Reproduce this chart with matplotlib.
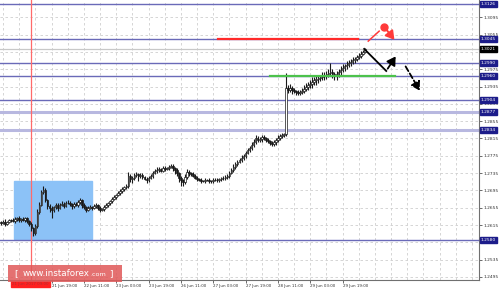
import matplotlib
matplotlib.use("Agg")
import matplotlib.pyplot as plt
from matplotlib.patches import Rectangle

# hourly closes, in 1e-4 units, from 20 Jun 18:00
closes = [
    12620, 12623, 12618, 12622, 12626, 12627, 12624, 12629, 12631, 12626,
    12629, 12627, 12631, 12624, 12617, 12608, 12596, 12613, 12645, 12661,
    12691, 12696, 12673, 12659, 12654, 12650, 12657, 12661, 12655, 12662,
    12664, 12660, 12667, 12666, 12663, 12659, 12664, 12661, 12668, 12673,
    12661, 12656, 12650, 12655, 12657, 12654, 12659, 12661, 12655, 12650,
    12652, 12657, 12661, 12665, 12670, 12676, 12680, 12684, 12689, 12693,
    12698, 12702, 12705, 12728, 12722, 12724, 12730, 12733, 12729, 12731,
    12726, 12722, 12719, 12724, 12728, 12735, 12740, 12742, 12744, 12741,
    12747, 12745, 12747, 12749, 12751, 12746, 12742, 12735, 12724, 12718,
    12714, 12726, 12738, 12735, 12733, 12729, 12724, 12721, 12719, 12717,
    12717, 12719, 12719, 12716, 12717, 12720, 12719, 12718, 12721, 12723,
    12724, 12726, 12728, 12735, 12742, 12750, 12756, 12761, 12765, 12770,
    12775, 12781, 12788, 12794, 12800, 12808, 12816, 12812, 12814, 12818,
    12816, 12812, 12809, 12805, 12802, 12806, 12811, 12817, 12821, 12823,
    12825, 12932, 12928, 12932, 12927, 12925, 12922, 12920, 12923, 12925,
    12930, 12934, 12938, 12941, 12946, 12950, 12953, 12955, 12957, 12959,
    12962, 12964, 12966, 12969, 12963, 12959, 12964, 12969, 12974, 12978,
    12982, 12985, 12989, 12992, 12996, 12999, 13003, 13006, 13011, 13015,
    13021,
]
# wick lengths above / below the body, pips
up_wick = [
    3, 4, 5, 3, 4, 3, 5, 4, 3, 4, 3, 5, 3, 2, 3, 4, 3, 5, 6, 8,
    5, 9, 4, 3, 5, 4, 3, 5, 4, 3, 6, 4, 3, 5, 4, 3, 4, 5, 6, 4,
    3, 4, 3, 5, 4, 3, 4, 5, 3, 4, 3, 4, 5, 4, 3, 4, 5, 3, 4, 5,
    4, 3, 5, 10, 4, 5, 6, 4, 3, 5, 4, 3, 4, 5, 6, 4, 5, 6, 4, 3,
    5, 4, 3, 4, 5, 4, 3, 4, 3, 4, 3, 6, 7, 4, 3, 4, 3, 4, 3, 4,
    3, 4, 3, 4, 3, 4, 3, 4, 3, 4, 5, 4, 5, 6, 5, 6, 5, 4, 5, 6,
    5, 6, 5, 4, 6, 5, 6, 4, 5, 6, 4, 3, 4, 3, 4, 5, 4, 5, 4, 5,
    3, 34, 6, 8, 5, 4, 3, 4, 5, 6, 8, 10, 7, 9, 12, 8, 6, 7, 5, 9,
    6, 8, 10, 20, 6, 5, 7, 6, 8, 9, 6, 8, 7, 6, 8, 5, 6, 7, 6, 5,
    4,
]
down_wick = [
    4, 3, 5, 4, 3, 4, 3, 4, 5, 3, 4, 3, 4, 5, 4, 6, 6, 4, 5, 4,
    3, 4, 5, 6, 8, 19, 4, 5, 8, 4, 3, 5, 4, 3, 5, 6, 4, 3, 4, 5,
    6, 4, 5, 3, 4, 5, 3, 4, 6, 5, 3, 4, 3, 4, 3, 4, 3, 4, 3, 4,
    3, 4, 3, 4, 8, 10, 5, 4, 12, 6, 5, 4, 6, 4, 3, 4, 3, 4, 5, 4,
    3, 4, 3, 4, 3, 5, 8, 6, 10, 12, 9, 5, 4, 6, 5, 4, 3, 4, 3, 4,
    3, 4, 3, 4, 3, 4, 3, 4, 3, 4, 3, 4, 5, 4, 3, 4, 5, 4, 3, 4,
    5, 4, 3, 4, 5, 4, 6, 5, 4, 6, 5, 4, 5, 6, 5, 4, 5, 4, 5, 4,
    5, 4, 8, 6, 9, 5, 6, 4, 5, 6, 4, 5, 8, 6, 10, 8, 12, 9, 7, 6,
    8, 9, 6, 7, 9, 10, 8, 6, 7, 5, 6, 7, 5, 6, 5, 6, 5, 4, 5, 4,
    3,
]
first_open = 12622

x_ticks = [25, 41, 57, 73, 89, 105, 121, 137, 153, 169]
x_labels = ["21 Jun 19:00", "22 Jun 11:00", "23 Jun 03:00", "23 Jun 19:00",
            "26 Jun 11:00", "27 Jun 03:00", "27 Jun 19:00", "28 Jun 11:00",
            "29 Jun 03:00", "29 Jun 19:00"]
y_ticks = [1.2495, 1.2535, 1.2575, 1.2615, 1.2655, 1.2695, 1.2735, 1.2775,
           1.2815, 1.2855, 1.2895, 1.2935, 1.2975, 1.3015, 1.3055, 1.3095]

levels = [1.3126, 1.3045, 1.2990, 1.2960, 1.2904, 1.2580]
soft_levels = [1.2877, 1.2834]
last_price = 1.3021
marker_bar = 15
marker_label = "21 Jun 2017 09:00"

zone_bars = [6.4, 45.0]
zone_prices = [1.2583, 1.2717]
red_level = [107.4, 176.7, 1.3045]
green_level = [133.2, 195.0, 1.2960]
red_path_x = [181.7, 187.1]
red_path_y = [1.3040, 1.3063]
red_dot = [189.6, 1.3073]
red_arrow_end = [195.5, 1.3038]
black_path_x = [179.7, 190.6]
black_path_y = [1.3022, 1.2971]
black_up_end = [196.0, 1.3010]
black_down = [199.5, 1.2987, 207.9, 1.2920]

fig = plt.figure(figsize=(5, 2.91), dpi=100)
ax = fig.add_axes([0, 11 / 291, 479 / 500, 280 / 291])
ax.set_xlim(-0.5, 236.5)
ax.set_ylim(1.2488, 1.3135)

for x in range(1, 237, 8):
    ax.axvline(x, color="#cfcfcf", lw=0.6, ls=(0, (3, 3)), zorder=0)
for y in y_ticks:
    ax.axhline(y, color="#cfcfcf", lw=0.6, ls=(0, (3, 3)), zorder=0)

ax.add_patch(Rectangle((zone_bars[0], zone_prices[0]), zone_bars[1] - zone_bars[0],
                       zone_prices[1] - zone_prices[0], color="#8cc2f7", zorder=1))

for y in soft_levels:
    ax.axhline(y, color="#b8b8e0", lw=2.2, zorder=2)
for y in levels:
    ax.axhline(y, color="#6a6ab8", lw=1.0, zorder=2)
ax.axhline(last_price, color="#c8c8c8", lw=0.9, zorder=2)
ax.axvline(marker_bar, color="#ff6a6a", lw=0.9, zorder=2)

prev = first_open
for i, c in enumerate(closes):
    o = prev / 10000
    cl = c / 10000
    hi = max(o, cl) + up_wick[i] / 10000
    lo = min(o, cl) - down_wick[i] / 10000
    ax.vlines(i, lo, hi, color="#1a1a1a", lw=0.8, zorder=3)
    face = "white" if cl >= o else "#1a1a1a"
    ax.add_patch(Rectangle((i - 0.4, min(o, cl)), 0.8, max(abs(cl - o), 0.00003),
                           facecolor=face, edgecolor="#1a1a1a", lw=0.5, zorder=4))
    prev = c

ax.plot(red_level[:2], [red_level[2]] * 2, color="#ff2a2a", lw=1.6, zorder=5)
ax.plot(green_level[:2], [green_level[2]] * 2, color="#4cc24c", lw=1.6, zorder=5)
ax.plot(red_path_x, red_path_y, color="#ff3a3a", lw=1.1, zorder=5)
ax.plot(red_dot[0], red_dot[1], "o", color="#ff3a3a", ms=5, zorder=6)
ax.annotate("", xy=red_arrow_end, xytext=red_dot,
            arrowprops=dict(arrowstyle="-|>,head_length=0.5,head_width=0.3",
                            color="#ff3a3a", lw=1.4), zorder=6)
ax.plot(black_path_x, black_path_y, color="black", lw=1.3, zorder=5)
ax.annotate("", xy=black_up_end, xytext=(black_path_x[1], black_path_y[1]),
            arrowprops=dict(arrowstyle="-|>,head_length=0.5,head_width=0.3",
                            color="black", lw=1.3), zorder=6)
ax.annotate("", xy=(black_down[2], black_down[3]), xytext=(black_down[0], black_down[1]),
            arrowprops=dict(arrowstyle="-|>,head_length=0.5,head_width=0.3",
                            color="black", lw=1.3, linestyle=(0, (3, 1.5))), zorder=6)

# axes frame and ticks
for s in ["top", "left"]:
    ax.spines[s].set_visible(False)
ax.spines["right"].set_color("#707070")
ax.spines["bottom"].set_color("#707070")
ax.spines["right"].set_linewidth(0.8)
ax.spines["bottom"].set_linewidth(0.8)
ax.yaxis.tick_right()
ax.set_yticks(y_ticks)
ax.set_yticklabels([f"{v:.4f}" for v in y_ticks])
ax.set_xticks(x_ticks)
ax.set_xticklabels(x_labels, ha="left")
ax.tick_params(axis="x", labelsize=2.9, length=2, width=0.5, colors="#303030", pad=1.2)
ax.tick_params(axis="y", labelsize=3.2, length=2, width=0.5, colors="#303030", pad=1.5)

for y in levels + soft_levels:
    ax.text(1.004, y, f"{y:.4f}", transform=ax.get_yaxis_transform(), fontsize=3.2,
            color="white", va="center", ha="left", zorder=10,
            bbox=dict(boxstyle="square,pad=0.25", fc="#1c1c8a", ec="#1c1c8a"))
ax.text(1.004, last_price, f"{last_price:.4f}", transform=ax.get_yaxis_transform(),
        fontsize=3.2, color="white", va="center", ha="left", zorder=10,
        bbox=dict(boxstyle="square,pad=0.25", fc="black", ec="black"))

ax.text(marker_bar - 9.5, -0.008, marker_label, transform=ax.get_xaxis_transform(),
        fontsize=2.9, color="#b03030", va="top", ha="left", zorder=10,
        bbox=dict(boxstyle="square,pad=0.3", fc="#ff2020", ec="#ff2020"), clip_on=False)

# watermark
fig.patches.append(Rectangle((8 / 500, 9 / 291), 114 / 500, 17 / 291,
                             transform=fig.transFigure, fc="#e05858", ec="none",
                             alpha=0.85, zorder=20))
renderer = fig.canvas.get_renderer()
inv = fig.transFigure.inverted()
fig.text(14 / 500, 17.5 / 291, "[", fontsize=6.5, color="white", va="center", zorder=21)
wm = fig.text(23 / 500, 17.5 / 291, "www.instaforex", fontsize=6.3, color="white",
              va="center", zorder=21)
right = inv.transform(wm.get_window_extent(renderer))[1][0]
com = fig.text(right + 0.001, 16.8 / 291, ".com", fontsize=4.6, color="white",
               va="center", zorder=21)
right = inv.transform(com.get_window_extent(renderer))[1][0]
fig.text(right + 0.006, 17.5 / 291, "]", fontsize=6.5, color="white", va="center", zorder=21)

fig.savefig("out.png", dpi=100)
